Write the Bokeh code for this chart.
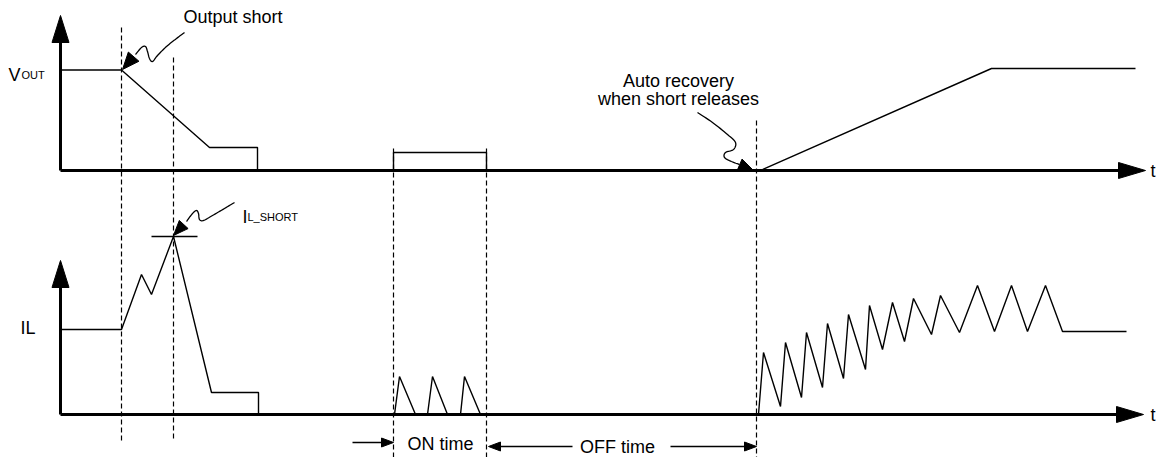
from bokeh.plotting import figure
from bokeh.models import Range1d
from bokeh.core.properties import value
from bokeh.embed import file_html
from bokeh.resources import INLINE
import math

# ---------------- data (time from axis origin, level above panel baseline) ----------------
vout_short_t = [0, 61, 149, 197, 197]
vout_short_lvl = [100.5, 100.5, 23, 23, 0]
vout_on_t = [333, 333, 426, 426]
vout_on_lvl = [0, 18, 18, 0]
vout_rec_t = [700, 931, 1075]
vout_rec_lvl = [0, 102, 102]

il_short_t = [0, 61, 81, 91, 113, 151, 198, 198]
il_short_lvl = [85, 85, 140, 120, 178, 22, 22, 0]
il_on_t = [334, 339, 355, 367, 372, 387, 400, 404, 420]
il_on_lvl = [0, 38, 0, 0, 38, 0, 0, 38, 0]
il_rec_t = [698, 703, 720, 725, 741, 746, 762, 767, 783, 788, 805, 809, 822, 832,
            844, 853, 871, 880, 899, 917, 934, 951, 967, 985, 1002, 1066]
il_rec_lvl = [0, 62, 8, 72, 17, 82, 27, 91, 36, 100, 45, 109, 65, 112,
              73, 116, 80, 119, 82, 129, 83, 129, 83, 129, 83, 83]
il_peak_lvl = 178
il_peak_tick_t = [91, 137]

event_t = [61, 113, 333, 426, 696]
event_top = [27, 57, 148, 148, 120]
event_bot = [440, 438, 457, 457, 457]

# ---------------- layout ----------------
W, H = 1159, 457
X0 = 60
TOP_BASE = 170
BOT_BASE = 414
FONT = value("Liberation Sans")

p = figure(width=W, height=H, x_range=Range1d(0, W), y_range=Range1d(H, 0),
           output_backend="svg", toolbar_location=None, min_border=0,
           x_axis_location=None, y_axis_location=None)
p.grid.visible = False
p.outline_line_color = None
p.background_fill_color = "white"
p.border_fill_color = "white"


def tx(ts):
    return [X0 + t for t in ts]


def ty(base, lv):
    return [base - v for v in lv]


def head(tip, frm, length, half):
    dx, dy = tip[0] - frm[0], tip[1] - frm[1]
    d = math.hypot(dx, dy)
    ux, uy = dx / d, dy / d
    bx, by = tip[0] - ux * length, tip[1] - uy * length
    px, py = -uy, ux
    return ([tip[0], bx + px * half, bx - px * half],
            [tip[1], by + py * half, by - py * half])


def catmull(pts, n=8):
    out = []
    P = [pts[0]] + pts + [pts[-1]]
    for i in range(1, len(P) - 2):
        p0, p1, p2, p3 = P[i - 1], P[i], P[i + 1], P[i + 2]
        for k in range(n):
            t = k / n
            t2, t3 = t * t, t * t * t
            x = 0.5 * ((2 * p1[0]) + (-p0[0] + p2[0]) * t + (2 * p0[0] - 5 * p1[0] + 4 * p2[0] - p3[0]) * t2 + (-p0[0] + 3 * p1[0] - 3 * p2[0] + p3[0]) * t3)
            y = 0.5 * ((2 * p1[1]) + (-p0[1] + p2[1]) * t + (2 * p0[1] - 5 * p1[1] + 4 * p2[1] - p3[1]) * t2 + (-p0[1] + 3 * p1[1] - 3 * p2[1] + p3[1]) * t3)
            out.append((x, y))
    out.append(pts[-1])
    return [q[0] for q in out], [q[1] for q in out]


# dashed event markers
for t, y0, y1 in zip(event_t, event_top, event_bot):
    p.line([X0 + t, X0 + t], [y0, y1], line_color="black", line_width=1.2, line_dash="5 3")

# waveforms
LW = 1.4
p.line(tx(vout_short_t), ty(TOP_BASE, vout_short_lvl), line_color="black", line_width=LW)
p.line(tx(vout_on_t), ty(TOP_BASE, vout_on_lvl), line_color="black", line_width=LW)
p.line(tx(vout_rec_t), ty(TOP_BASE, vout_rec_lvl), line_color="black", line_width=LW)
p.line(tx(il_short_t), ty(BOT_BASE, il_short_lvl), line_color="black", line_width=LW)
p.line(tx(il_on_t), ty(BOT_BASE, il_on_lvl), line_color="black", line_width=LW)
p.line(tx(il_rec_t), ty(BOT_BASE, il_rec_lvl), line_color="black", line_width=LW)
p.line(tx(il_peak_tick_t), ty(BOT_BASE, [il_peak_lvl, il_peak_lvl]), line_color="black", line_width=LW)

# axes with arrowheads
AW = 3
p.line([X0, X0], [TOP_BASE, 42], line_color="black", line_width=AW)
p.line([X0, X0], [BOT_BASE, 287], line_color="black", line_width=AW)
p.line([X0, 1120], [TOP_BASE, TOP_BASE], line_color="black", line_width=AW)
p.line([X0, 1119], [BOT_BASE, BOT_BASE], line_color="black", line_width=AW)
hx, hy = [], []
for tip, frm, L, hw in [((X0, 15), (X0, 50), 27, 8.5), ((X0, 260), (X0, 300), 27, 8.5),
                        ((1145, TOP_BASE), (1100, TOP_BASE), 27, 8), ((1143, BOT_BASE), (1100, BOT_BASE), 27, 8)]:
    a, b = head(tip, frm, L, hw)
    hx.append(a)
    hy.append(b)

# squiggle callouts
squig = [
    ([(184, 32), (176, 38), (166, 46), (157, 55), (152, 61), (149, 58), (147, 51), (145, 46), (141, 47), (135, 54)], (122, 69), 17, 7),
    ([(234, 202), (224, 208), (212, 215), (203, 220), (199, 219), (198, 213), (196, 210), (192, 213), (186, 221)], (173, 235), 15, 6),
    ([(697, 112), (712, 122), (727, 134), (735, 142), (733, 149), (725, 152), (724, 157), (731, 161), (739, 164)], (753, 170), 15, 6),
]
for pts, tip, L, hw in squig:
    xs, ys = catmull(pts)
    p.line(xs, ys, line_color="black", line_width=1.3)
    a, b = head(tip, pts[-1], L, hw)
    hx.append(a)
    hy.append(b)

# ON / OFF time arrows
p.line([352, 385], [442, 442], line_color="black", line_width=1.3)
a, b = head((393, 442), (352, 442), 12, 4.5); hx.append(a); hy.append(b)
p.line([496, 572], [446, 446], line_color="black", line_width=1.3)
a, b = head((488, 446), (572, 446), 12, 4.5); hx.append(a); hy.append(b)
p.line([670, 748], [446, 446], line_color="black", line_width=1.3)
a, b = head((756, 446), (670, 446), 12, 4.5); hx.append(a); hy.append(b)

p.patches(hx, hy, fill_color="black", line_color="black", line_width=1)

# texts
def txt(x, y, s, size, align="left", baseline="middle"):
    p.text(x=[x], y=[y], text=[s], text_font=FONT, text_font_size=size,
           text_align=align, text_baseline=baseline, text_color="black")

txt(183, 16, "Output short", "18px")
txt(8, 74, "V", "18px", baseline="alphabetic")
txt(21, 74, "OUT", "11px", baseline="alphabetic")
txt(20, 327, "IL", "18px")
txt(242, 216, "I", "18px", baseline="alphabetic")
txt(247, 216, "L_SHORT", "11px", baseline="alphabetic")
txt(678, 80, "Auto recovery", "18px", align="center")
txt(678, 98, "when short releases", "18px", align="center")
txt(1150, TOP_BASE, "t", "18px")
txt(1150, BOT_BASE, "t", "18px")
txt(440, 443, "ON time", "18px", align="center")
txt(617, 446, "OFF time", "18px", align="center")

open("out.html", "w").write(file_html(p, INLINE))
